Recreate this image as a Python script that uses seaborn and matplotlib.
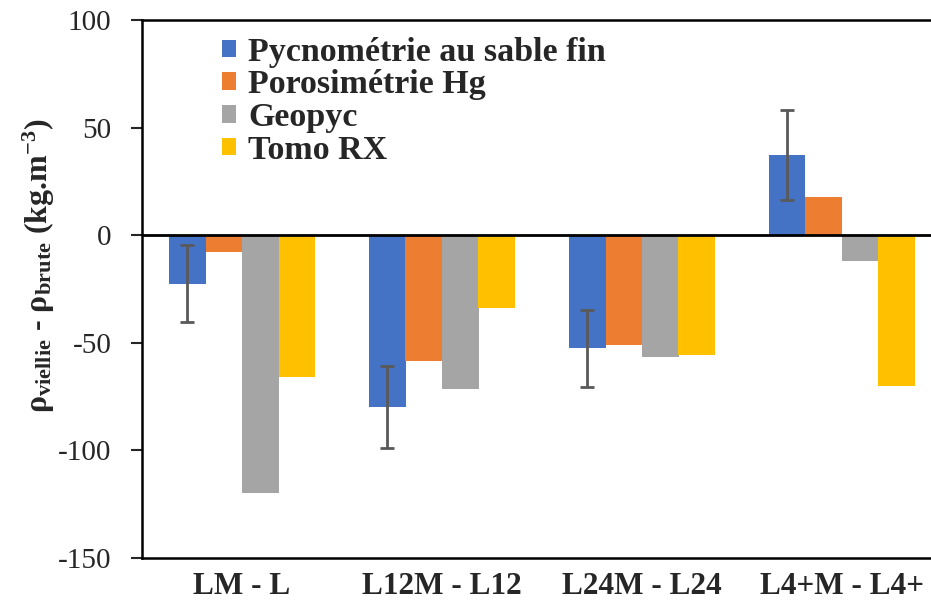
import numpy as np
import pandas as pd
import seaborn as sns
import matplotlib.pyplot as plt

# values
categories = ['LM - L', 'L12M - L12', 'L24M - L24', 'L4+M - L4+']
methods = ['Pycnométrie au sable fin', 'Porosimétrie Hg', 'Geopyc', 'Tomo RX']
pycno = [-22.5, -80.0, -52.6, 37.4]
poro = [-7.6, -58.5, -50.9, 17.7]
geopyc = [-119.6, -71.6, -56.8, -12.1]
tomo = [-65.7, -33.9, -55.7, -70.0]
pycno_err = [18.0, 19.0, 18.0, 21.0]
colors = ['#4472C4', '#ED7D31', '#A5A5A5', '#FFC000']
yticks = [-150, -100, -50, 0, 50, 100]

sns.set_style('white')
plt.rcParams['font.family'] = ['Liberation Serif', 'DejaVu Serif']
plt.rcParams['mathtext.fontset'] = 'custom'
plt.rcParams['mathtext.rm'] = 'Liberation Serif'
plt.rcParams['mathtext.bf'] = 'Liberation Serif:bold'
plt.rcParams['mathtext.it'] = 'Liberation Serif:italic'
plt.rcParams['axes.unicode_minus'] = False

rows = []
for name, vals in zip(methods, [pycno, poro, geopyc, tomo]):
    for c, v in zip(categories, vals):
        rows.append({'cat': c, 'method': name, 'val': v})
df = pd.DataFrame(rows)

fig = plt.figure(figsize=(9.31, 6.1), dpi=100)
ax = fig.add_axes([142 / 931, 1 - 558 / 610, 800 / 931, 538 / 610])

sns.barplot(data=df, x='cat', y='val', hue='method', palette=colors,
            width=0.73, gap=0, errorbar=None, saturation=1,
            edgecolor='none', ax=ax)

# error bars only on the first series
bars = ax.containers[0]
xs = [p.get_x() + p.get_width() / 2 for p in bars]
ax.errorbar(xs, pycno, yerr=pycno_err, fmt='none', ecolor='#595959',
            elinewidth=2, capsize=5, capthick=2, zorder=5)

ax.axhline(0, color='black', lw=2, zorder=6)
ax.set_xlim(-0.5, 3.5)
ax.set_ylim(-150, 100)
ax.set_yticks(yticks)
ax.tick_params(axis='y', labelsize=21, length=8, width=1.5, direction='out',
               left=True, pad=14)
ax.tick_params(axis='x', length=0, pad=10)
for lab in ax.get_xticklabels():
    lab.set_fontweight('bold')
    lab.set_fontsize(22.5)
ax.set_xlabel('')
ax.set_ylabel(r'ρ$_{\mathbf{viellie}}$ - ρ$_{\mathbf{brute}}$ (kg.m$^{\mathbf{-3}}$)',
              fontsize=23, fontweight='bold')
ax.yaxis.set_label_coords(-0.106, 0.543)

for s in ['left', 'top', 'bottom']:
    ax.spines[s].set_color('black')
    ax.spines[s].set_linewidth(1.8)
ax.spines['right'].set_visible(False)

ax.legend(loc='upper left', bbox_to_anchor=(0.1, 0.969), frameon=False,
          prop={'weight': 'bold', 'size': 24.5}, handlelength=0.42,
          handleheight=0.42, handletextpad=0.35, labelspacing=0.05,
          borderaxespad=0, borderpad=0)

fig.savefig('out.png', dpi=100)
